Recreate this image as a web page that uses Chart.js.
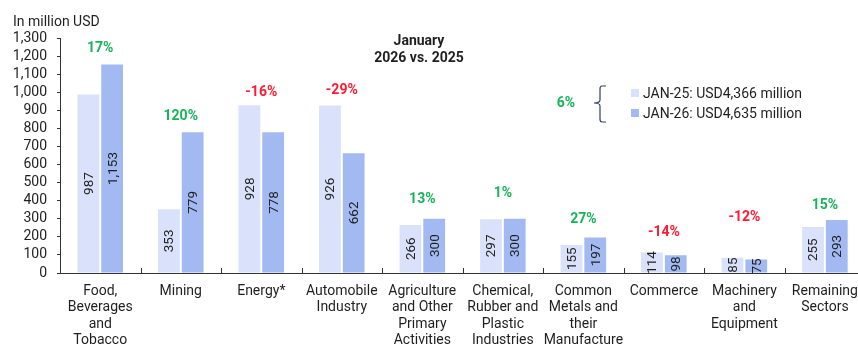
<!DOCTYPE html>
<html>
<head>
<meta charset="utf-8">
<script src="https://cdn.jsdelivr.net/npm/chart.js@4.4.1/dist/chart.umd.min.js"></script>
<style>
html,body{margin:0;padding:0;background:#fff;overflow:hidden;}
#wrap{width:858px;height:347px;position:relative;overflow:hidden;}
</style>
</head>
<body>
<div id="wrap"><canvas id="c" width="868" height="347"></canvas></div>
<script>
// ---- data ----
const categories = [
  ["Food,","Beverages","and","Tobacco"],
  ["Mining"],
  ["Energy*"],
  ["Automobile","Industry"],
  ["Agriculture","and Other","Primary","Activities"],
  ["Chemical,","Rubber and","Plastic","Industries"],
  ["Common","Metals and","their","Manufacture"],
  ["Commerce"],
  ["Machinery","and","Equipment"],
  ["Remaining","Sectors"]
];
const jan25 = [987, 353, 928, 926, 266, 297, 155, 114, 85, 255];
const jan26 = [1153, 779, 778, 662, 300, 300, 197, 98, 75, 293];
const changeLabels = ["17%","120%","-16%","-29%","13%","1%","27%","-14%","-12%","15%"];
const seriesNames = ["JAN-25: USD4,366 million","JAN-26: USD4,635 million"];
const totalChange = "6%";
const yTicks = [0,100,200,300,400,500,600,700,800,900,1000,1100,1200,1300];
const unitLabel = "In million USD";
const titleLines = ["January","2026 vs. 2025"];

// ---- style ----
const C25 = "#D9E2FA", C26 = "#A3B9F2";
const GREEN = "#18B35A", RED = "#FF1A33", TXT = "#1f1f1f";
const FONT = "Roboto";
const pctOffsets = [16,16,13,15,19,25,18,20,40,15];

const overlay = {
  id: "overlay",
  afterDatasetsDraw(chart) {
    const ctx = chart.ctx;
    const x = chart.scales.x, y = chart.scales.y;
    ctx.save();
    // value labels rotated inside bars
    ctx.font = "13.5px " + FONT;
    ctx.fillStyle = TXT;
    ctx.textAlign = "center";
    ctx.textBaseline = "middle";
    chart.data.datasets.forEach((ds, di) => {
      const meta = chart.getDatasetMeta(di);
      meta.data.forEach((bar, i) => {
        const v = ds.data[i];
        const cy = (bar.y + bar.base) / 2;
        ctx.save();
        ctx.translate(bar.x + 1, cy);
        ctx.rotate(-Math.PI / 2);
        ctx.fillText(v.toLocaleString("en-US"), 0, 0);
        ctx.restore();
      });
    });
    // change labels
    ctx.font = "bold 14px " + FONT;
    changeLabels.forEach((lab, i) => {
      const m = Math.max(jan25[i], jan26[i]);
      const px = x.getPixelForValue(i);
      const py = y.getPixelForValue(m) - pctOffsets[i];
      ctx.fillStyle = lab.trim().startsWith("-") ? RED : GREEN;
      ctx.fillText(lab, px, py);
    });
    // x-axis upward tick marks between categories
    ctx.strokeStyle = "#333";
    ctx.lineWidth = 1;
    for (let i = 1; i < categories.length; i++) {
      const px = Math.round((x.getPixelForValue(i - 1) + x.getPixelForValue(i)) / 2) + 0.5;
      ctx.beginPath();
      ctx.moveTo(px, y.bottom);
      ctx.lineTo(px, y.bottom - 5);
      ctx.stroke();
    }
    // unit label
    ctx.fillStyle = TXT;
    ctx.font = "14px " + FONT;
    ctx.textAlign = "left";
    ctx.fillText(unitLabel, 13, 22);
    // title
    ctx.font = "bold 14px " + FONT;
    ctx.textAlign = "center";
    ctx.fillText(titleLines[0], 419, 41);
    ctx.fillText(titleLines[1], 419, 58);
    // legend
    ctx.font = "14px " + FONT;
    ctx.textAlign = "left";
    [C25, C26].forEach((col, k) => {
      const ly = 93 + k * 20;
      ctx.fillStyle = col;
      ctx.fillRect(631, ly - 4, 8, 8);
      ctx.fillStyle = TXT;
      ctx.fillText(seriesNames[k], 643, ly + 1);
    });
    // brace
    ctx.strokeStyle = "#2E3D6B";
    ctx.lineWidth = 1.2;
    ctx.beginPath();
    ctx.moveTo(606, 86); ctx.lineTo(602, 86);
    ctx.quadraticCurveTo(600, 86, 600, 89);
    ctx.lineTo(600, 100);
    ctx.quadraticCurveTo(600, 103, 594, 103);
    ctx.quadraticCurveTo(600, 103, 600, 106);
    ctx.lineTo(600, 119);
    ctx.quadraticCurveTo(600, 122, 602, 122);
    ctx.lineTo(606, 122);
    ctx.stroke();
    ctx.font = "bold 14px " + FONT;
    ctx.fillStyle = GREEN;
    ctx.textAlign = "center";
    ctx.fillText(totalChange, 566, 103);
    ctx.restore();
  }
};

new Chart(document.getElementById("c"), {
  type: "bar",
  data: {
    labels: categories,
    datasets: [
      { label: seriesNames[0], data: jan25, backgroundColor: C25 },
      { label: seriesNames[1], data: jan26, backgroundColor: C26 }
    ]
  },
  options: {
    responsive: false,
    animation: false,
    devicePixelRatio: 1,
    layout: { padding: { top: 38, left: 0, right: 1, bottom: 0 } },
    datasets: { bar: { categoryPercentage: 0.59, barPercentage: 0.917 } },
    plugins: { legend: { display: false }, tooltip: { enabled: false }, title: { display: false } },
    scales: {
      x: {
        grid: { display: false, drawTicks: false },
        border: { display: true, color: "#333", width: 1 },
        ticks: { color: TXT, font: { family: FONT, size: 14, lineHeight: 1.18 }, padding: 10, maxRotation: 0, autoSkip: false },
        afterFit(s) { s.height = 74; }
      },
      y: {
        min: 0, max: 1300,
        afterBuildTicks(s) { s.ticks = yTicks.map(v => ({ value: v })); },
        grid: { drawOnChartArea: false, drawTicks: true, tickLength: 3, color: "#333" },
        border: { display: true, color: "#333", width: 1 },
        ticks: { color: TXT, font: { family: FONT, size: 14 }, padding: 10, autoSkip: false,
                 callback: v => v.toLocaleString("en-US") },
        afterFit(s) { s.width = 60; }
      }
    }
  },
  plugins: [overlay]
});
</script>
</body>
</html>
